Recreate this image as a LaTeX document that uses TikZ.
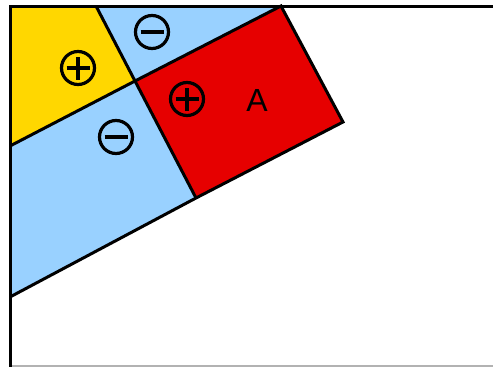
\documentclass[tikz,border=0pt]{standalone}
\usepackage{fontspec}
\setmainfont{Liberation Sans}
\begin{document}
\begin{tikzpicture}[x=1pt,y=-1pt,
  edge/.style={line width=3pt, line join=miter},
  sym/.style={circle, draw, line width=3.2pt, minimum size=33pt, inner sep=0pt},
  bar/.style={line width=3.5pt},
]
\useasboundingbox (0,0) rectangle (493,367);
% corner points (pixel coordinates, y downwards)
\coordinate (TL) at (10,6);
\coordinate (Y1) at (96,6);
\coordinate (P)  at (135,81);
\coordinate (L1) at (10,146);
\coordinate (R1) at (281,6);
\coordinate (R2) at (343,122);
\coordinate (R3) at (196,198);
\coordinate (L2) at (10,297);
\coordinate (TR) at (493,6);
\coordinate (BL) at (10,367);
\coordinate (BR) at (493,366);
\coordinate (BB) at (10,366);
\definecolor{gold}{RGB}{255,215,0}
\definecolor{sky}{RGB}{153,209,255}
\definecolor{rred}{RGB}{230,0,0}
% fills
\fill[gold] (TL) -- (Y1) -- (P) -- (L1) -- cycle;
\fill[sky] (Y1) -- (R1) -- (P) -- cycle;
\fill[sky] (L1) -- (P) -- (R3) -- (L2) -- cycle;
\fill[rred] (P) -- (R1) -- (R2) -- (R3) -- cycle;
% outlines
\draw[edge] (Y1) -- (P) -- (R3);
\draw[edge] (L1) -- (P) -- (R1) -- (R2) -- (R3) -- (L2);
\draw[gray!60, line width=1.2pt] (BB) -- (BR);
\draw[edge, line cap=rect] (TR) -- (TL) -- (BL);
% signs
\node[sym] (s1) at (78,68) {};
\draw[bar] ([xshift=-11.5pt]s1.center) -- ([xshift=11.5pt]s1.center);
\draw[bar] ([yshift=-11.5pt]s1.center) -- ([yshift=11.5pt]s1.center);
\node[sym] (s2) at (152,32) {};
\draw[bar] ([xshift=-11.5pt]s2.center) -- ([xshift=11.5pt]s2.center);
\node[sym] (s3) at (116,137) {};
\draw[bar] ([xshift=-11.5pt]s3.center) -- ([xshift=11.5pt]s3.center);
\node[sym] (s4) at (187,99) {};
\draw[bar] ([xshift=-11.5pt]s4.center) -- ([xshift=11.5pt]s4.center);
\draw[bar] ([yshift=-11.5pt]s4.center) -- ([yshift=11.5pt]s4.center);
\node[font=\fontsize{32}{32}\selectfont, inner sep=0pt] (A) at (257,100) {A};
\end{tikzpicture}
\end{document}
